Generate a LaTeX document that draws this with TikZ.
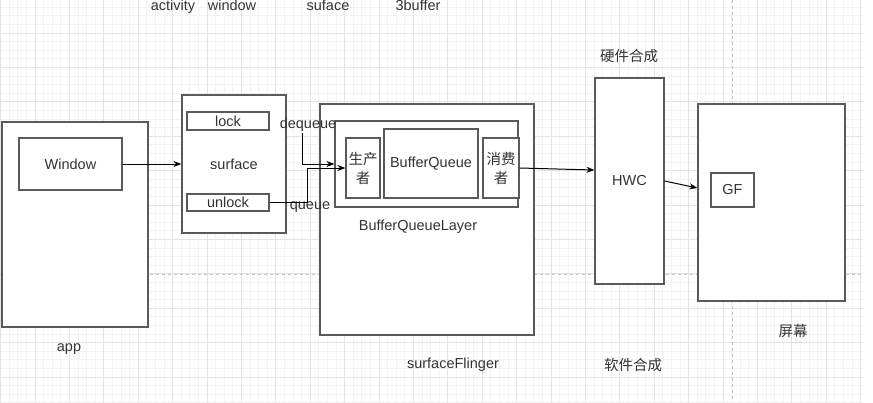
\documentclass[tikz,border=0pt]{standalone}
\usepackage{fontspec}
\setmainfont{Liberation Sans}
\newfontfamily\cjk{Noto Sans CJK SC}
\usetikzlibrary{arrows.meta,positioning,calc}
\definecolor{gdLine} {HTML}{5A5A5A}
\definecolor{gdText} {HTML}{333333}
\definecolor{gdMinor}{HTML}{F3F3F3}
\definecolor{gdMajor}{HTML}{E3E3E3}
\definecolor{gdPage} {HTML}{C4C4C4}
\newcommand{\lbfont}{\fontsize{14.5}{19}\selectfont}

\begin{document}
\begin{tikzpicture}[x=1pt,y=-1pt,>={Stealth[length=8pt,width=6pt]},
      bx/.style={draw=gdLine,line width=1.2pt,fill=white,inner sep=0pt,
                 text=gdText,font=\lbfont,align=center},
      lbl/.style={inner sep=1pt,text=gdText,font=\lbfont},
      cn/.style={lbl,font=\lbfont\cjk},
      arr/.style={->,draw=black,line width=1pt}]
    \useasboundingbox (0,0) rectangle (873,402);
    % background grid
    \foreach \i in {0,...,100}
      \draw[gdMinor,line width=0.8pt] (0.6+8.6*\i,0) -- (0.6+8.6*\i,402);
    \foreach \j in {0,...,47}
      \draw[gdMinor,line width=0.8pt] (0,-1.4+8.6*\j) -- (863,-1.4+8.6*\j);
    \foreach \i in {0,...,25}
      \draw[gdMajor,line width=1pt] (0.6+34.4*\i,0) -- (0.6+34.4*\i,402);
    \foreach \j in {1,...,12}
      \draw[gdMajor,line width=1pt] (0,-1.4+34.4*\j) -- (863,-1.4+34.4*\j);
    \draw[gdPage,dashed,line width=0.8pt] (732,0) -- (732,402);
    \draw[gdPage,dashed,line width=0.8pt] (0,274) -- (863,274);

    % app side
    \node[bx,minimum width=146,minimum height=205] (app) at (75,224.5) {};
    \node[bx,minimum width=103,minimum height=52] (win) at (70.5,164) {Window};
    \node[bx,minimum width=104,minimum height=138] (surf) at (234,164) {surface};
    \node[bx,minimum width=82,minimum height=18] (lock) at (228,121) {lock};
    \node[bx,minimum width=82,minimum height=17] (unlock) at (228,202.5) {unlock};

    % surfaceFlinger
    \node[bx,minimum width=214,minimum height=231] (sf) at (427,219.5) {};
    \node[bx,minimum width=183,minimum height=86] (bql) at (426.5,164) {};
    \node[bx,minimum width=34,minimum height=60,font=\lbfont\cjk] (prod) at (363,168) {生产\\者};
    \node[bx,minimum width=94,minimum height=69] (bq) at (431,163.5) {BufferQueue};
    \node[bx,minimum width=36,minimum height=60,font=\lbfont\cjk] (cons) at (501,168) {消费\\者};

    % composition and screen
    \node[bx,minimum width=69,minimum height=206] (hwc) at (629.5,181) {HWC};
    \node[bx,minimum width=147,minimum height=197] (scr) at (771.5,202.5) {};
    \node[bx,minimum width=43,minimum height=34] (gf) at (732.5,190) {GF};

    % labels
    \node[lbl,anchor=base] (tAct) at (173,10.5) {activity};
    \node[lbl,anchor=base] (tWin) at (232,10.5) {window};
    \node[lbl,anchor=base] (tSuf) at (328,10.5) {suface};
    \node[lbl,anchor=base] (tBuf) at (418,10.5) {3buffer};
    \node[lbl] (tApp) at (69,349) {app};
    \node[lbl] (tBql) at (418,227) {BufferQueueLayer};
    \node[lbl] (tSf) at (453,365) {surfaceFlinger};
    \node[cn] (tHw) at (629,56) {硬件合成};
    \node[cn] (tSw) at (633,365) {软件合成};
    \node[cn] (tScr) at (793,331) {屏幕};
    \node[lbl] (deq) at (308,125) {dequeue};
    \node[lbl] (que) at (310,207) {queue};
    \coordinate (deqs) at (302,133);

    % connectors
    \draw[arr] (win.east) -- (surf.west);
    \draw[arr] (deqs) |- (bql.west);
    \draw[arr] (unlock.east) -- ++(38,0) |- (prod.west);
    \draw[arr] (cons.east) -- ([yshift=11pt]hwc.west);
    \draw[arr] (hwc.east) -- ([yshift=14.5pt]scr.west);
  \end{tikzpicture}
\end{document}
